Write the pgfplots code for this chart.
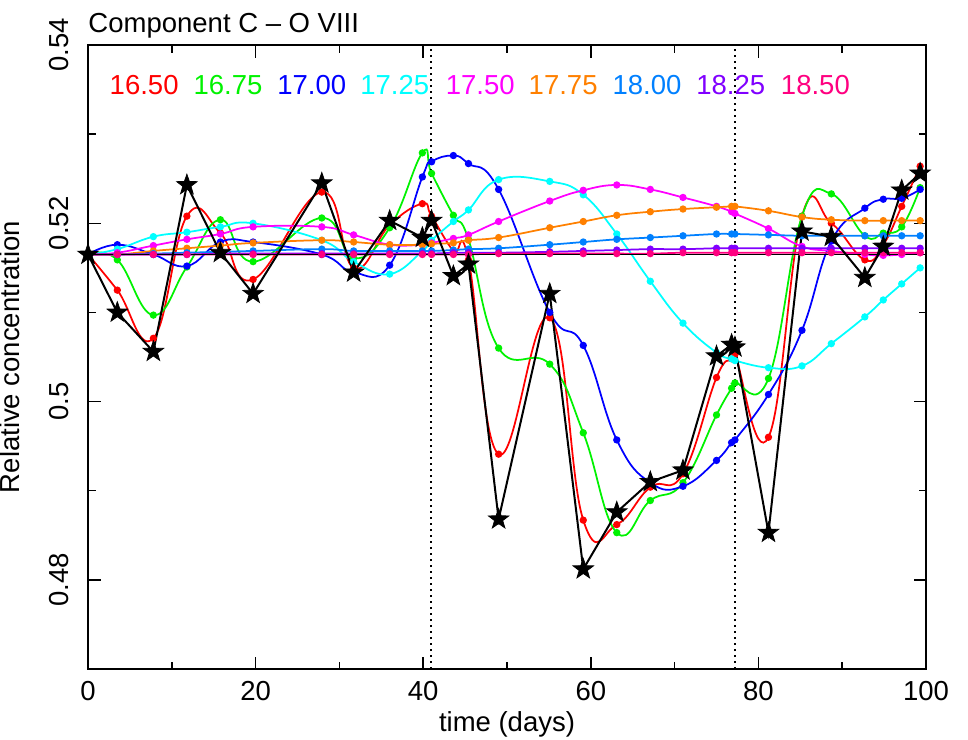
\documentclass[border=0pt]{standalone}
\usepackage{fontspec}
\setmainfont{Liberation Sans}
\usepackage{pgfplots}
\pgfplotsset{compat=1.18}
\usepackage{pgfplotstable}

\definecolor{colR}{rgb}{1,0,0}
\definecolor{colG}{rgb}{0,0.95,0}
\definecolor{colB}{rgb}{0,0,1}
\definecolor{colC}{rgb}{0,1,1}
\definecolor{colM}{rgb}{1,0,1}
\definecolor{colO}{rgb}{1,0.5,0}
\definecolor{colLB}{rgb}{0,0.5,1}
\definecolor{colV}{rgb}{0.5,0,1}
\definecolor{colP}{rgb}{1,0,0.5}

% filled five-pointed star
\pgfdeclareplotmark{fstar}{%
  \pgfpathmoveto{\pgfpointpolar{90}{\pgfplotmarksize}}%
  \pgfpathlineto{\pgfpointpolar{126}{0.4\pgfplotmarksize}}%
  \pgfpathlineto{\pgfpointpolar{162}{\pgfplotmarksize}}%
  \pgfpathlineto{\pgfpointpolar{198}{0.4\pgfplotmarksize}}%
  \pgfpathlineto{\pgfpointpolar{234}{\pgfplotmarksize}}%
  \pgfpathlineto{\pgfpointpolar{270}{0.4\pgfplotmarksize}}%
  \pgfpathlineto{\pgfpointpolar{306}{\pgfplotmarksize}}%
  \pgfpathlineto{\pgfpointpolar{342}{0.4\pgfplotmarksize}}%
  \pgfpathlineto{\pgfpointpolar{18}{\pgfplotmarksize}}%
  \pgfpathlineto{\pgfpointpolar{54}{0.4\pgfplotmarksize}}%
  \pgfpathclose
  \pgfusepathqfillstroke}

% t, observed (stars), models 16.50 ... 18.50
\pgfplotstableread{
t     obs    r      g      b      c      m      o      lb     v      p
0     0.5165 0.5165 0.5165 0.5165 0.5165 0.5165 0.5165 0.5165 0.5165 0.5165
3.5   0.5100 0.5125 0.5159 0.5176 0.5171 0.5167 0.5165 0.5165 0.5165 0.5165
7.8   0.5056 0.5071 0.5097 0.5165 0.5185 0.5175 0.5169 0.5166 0.5165 0.5165
11.8  0.5243 0.5208 0.5151 0.5152 0.5190 0.5182 0.5172 0.5167 0.5165 0.5165
15.8  0.5167 0.5189 0.5204 0.5179 0.5196 0.5188 0.5175 0.5168 0.5166 0.5165
19.7  0.5121 0.5137 0.5157 0.5179 0.5200 0.5196 0.5178 0.5169 0.5166 0.5165
27.9  0.5245 0.5235 0.5206 0.5165 0.5181 0.5196 0.5181 0.5171 0.5166 0.5165
31.7  0.5145 0.5150 0.5161 0.5145 0.5157 0.5187 0.5179 0.5169 0.5166 0.5165
36.0  0.5203 0.5198 0.5195 0.5153 0.5143 0.5176 0.5176 0.5169 0.5166 0.5165
39.9  0.5184 0.5222 0.5279 0.5252 0.5169 0.5176 0.5176 0.5169 0.5166 0.5165
41.0  0.5203 0.5208 0.5256 0.5269 0.5181 0.5178 0.5177 0.5169 0.5166 0.5165
43.6  0.5141 0.5169 0.5209 0.5276 0.5202 0.5183 0.5178 0.5170 0.5167 0.5165
45.4  0.5154 0.5159 0.5182 0.5267 0.5215 0.5187 0.5181 0.5171 0.5167 0.5165
49.0  0.4868 0.4941 0.5060 0.5238 0.5249 0.5202 0.5184 0.5172 0.5167 0.5166
55.1  0.5121 0.5094 0.5042 0.5100 0.5247 0.5225 0.5195 0.5176 0.5168 0.5166
59.1  0.4812 0.4867 0.4965 0.5063 0.5232 0.5237 0.5202 0.5179 0.5169 0.5166
63.1  0.4876 0.4862 0.4853 0.4957 0.5188 0.5243 0.5209 0.5182 0.5170 0.5166
67.1  0.4910 0.4904 0.4889 0.4909 0.5135 0.5238 0.5213 0.5184 0.5171 0.5166
71.0  0.4923 0.4919 0.4909 0.4905 0.5088 0.5229 0.5216 0.5186 0.5171 0.5167
75.0  0.5051 0.5027 0.4985 0.4934 0.5055 0.5219 0.5218 0.5188 0.5172 0.5167
76.8  0.5064 0.5048 0.5015 0.4954 0.5048 0.5213 0.5219 0.5188 0.5172 0.5167
77.2  0.5061 0.5053 0.5021 0.4957 0.5046 0.5211 0.5219 0.5188 0.5172 0.5167
81.2  0.4853 0.4960 0.5026 0.5008 0.5038 0.5194 0.5214 0.5187 0.5172 0.5167
85.2  0.5191 0.5208 0.5208 0.5080 0.5040 0.5174 0.5207 0.5186 0.5172 0.5167
88.7  0.5185 0.5200 0.5233 0.5180 0.5065 0.5169 0.5204 0.5186 0.5172 0.5167
92.7  0.5139 0.5159 0.5186 0.5217 0.5095 0.5165 0.5203 0.5186 0.5172 0.5167
94.9  0.5174 0.5176 0.5189 0.5227 0.5114 0.5164 0.5203 0.5186 0.5172 0.5167
97.1  0.5237 0.5219 0.5196 0.5228 0.5132 0.5165 0.5203 0.5186 0.5172 0.5167
99.3  0.5256 0.5264 0.5240 0.5238 0.5150 0.5167 0.5203 0.5186 0.5172 0.5167
}\data

\begin{document}
\begin{tikzpicture}[font=\fontsize{11}{13}\selectfont]
\path[use as bounding box] (-35.2pt,-28pt) rectangle (352pt,267.6pt);
\begin{axis}[
  at={(0,0)}, anchor=south west, scale only axis,
  width=335.2pt, height=249.6pt,
  xmin=0, xmax=100, ymin=0.47, ymax=0.54,
  xtick={0,20,...,100}, minor xtick={10,30,...,90},
  ytick={0.48,0.5,0.52,0.54}, minor ytick={0.49,0.51,0.53},
  tick align=inside, tick pos=both,
  major tick length=5pt, minor tick length=3pt,
  axis line style={line width=0.8pt},
  every tick/.style={black, line width=0.6pt},
  /pgf/number format/assume math mode=true,
  xticklabel shift=1.4pt,
  yticklabel style={rotate=90, anchor=south},
  yticklabel shift=4pt,
  clip=false,
  every axis plot/.append style={line width=0.7pt},
  model/.style={smooth, tension=0.75, mark=*, mark size=1.1pt},
]
\addplot[colR, model] table[x=t,y=r] {\data};
\addplot[colG, model] table[x=t,y=g] {\data};
\addplot[colB, model] table[x=t,y=b] {\data};
\addplot[colC, model] table[x=t,y=c] {\data};
\addplot[colM, model] table[x=t,y=m] {\data};
\addplot[colO, model] table[x=t,y=o] {\data};
\addplot[colLB, model] table[x=t,y=lb] {\data};
\addplot[colV, model] table[x=t,y=v] {\data};
\addplot[colP, model] table[x=t,y=p] {\data};
\addplot[black, no marks] coordinates {(0,0.5165) (100,0.5165)};
\addplot[black, line width=0.8pt, mark=fstar, mark size=4.3pt,
  mark options={solid, fill=black, line width=0.3pt}] table[x=t,y=obs] {\data};
% dotted markers
\addplot[black, no marks, line width=0.8pt, dash pattern=on 0.8pt off 1.6pt]
  coordinates {(40.93,0.47) (40.93,0.54)};
\addplot[black, no marks, line width=0.8pt, dash pattern=on 0.8pt off 1.6pt]
  coordinates {(77.2,0.47) (77.2,0.54)};
% labels
\node[anchor=base west, inner sep=0pt] at (axis cs:0,0.5414) {Component C -- O VIII};
\node[anchor=base, inner sep=0pt, text=colR]  at (axis cs:6.7,0.5344) {16.50};
\node[anchor=base, inner sep=0pt, text=colG]  at (axis cs:16.7,0.5344) {16.75};
\node[anchor=base, inner sep=0pt, text=colB]  at (axis cs:26.7,0.5344) {17.00};
\node[anchor=base, inner sep=0pt, text=colC]  at (axis cs:36.6,0.5344) {17.25};
\node[anchor=base, inner sep=0pt, text=colM]  at (axis cs:46.8,0.5344) {17.50};
\node[anchor=base, inner sep=0pt, text=colO]  at (axis cs:56.7,0.5344) {17.75};
\node[anchor=base, inner sep=0pt, text=colLB] at (axis cs:66.7,0.5344) {18.00};
\node[anchor=base, inner sep=0pt, text=colV]  at (axis cs:76.7,0.5344) {18.25};
\node[anchor=base, inner sep=0pt, text=colP]  at (axis cs:86.8,0.5344) {18.50};
\node at (axis cs:50,0.4638) {time (days)};
\node[rotate=90] at (axis cs:-9.3,0.505) {Relative concentration};
\end{axis}
\end{tikzpicture}
\end{document}
